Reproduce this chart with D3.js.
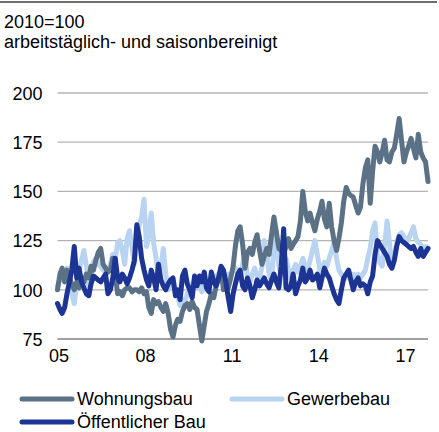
<!doctype html>
<html>
<head>
<meta charset="utf-8">
<title>Auftragseingang Bau</title>
<script src="https://cdn.jsdelivr.net/npm/d3@7"></script>
<style>
    body { margin: 0; background: white; }
    text { font-family: "Liberation Sans", Arial, sans-serif; fill: #000; }
    .grid line { stroke: #b4b4b4; stroke-width: 1.3px; }
    .series { fill: none; stroke-width: 5px; stroke-linejoin: round; stroke-linecap: round; }
</style>
</head>
<body>
<script>
    // monthly, Jan 2005 .. Nov 2017, 2010=100
    const startYear = 2005;
    const wohnungsbau = [
        100, 108, 111, 104, 110, 106, 103, 100, 104, 101, 106, 104,
        108, 106, 112, 110, 115, 119, 121, 113, 111, 109, 110, 116,
        108, 98, 99, 97, 100, 101, 101, 99, 100, 100, 99, 101,
        98, 99, 91, 88, 95, 93, 94, 91, 89, 93, 88, 80,
        76, 82, 85, 84, 89, 92, 93, 90, 94, 91, 90, 82,
        74, 82, 89, 93, 98, 96, 102, 106, 111, 100, 103, 101,
        106, 112, 122, 130, 132, 123, 111, 119, 121, 118, 124, 128,
        120, 113, 117, 121, 118, 128, 137, 129, 121, 120, 118, 122,
        126, 121, 123, 125, 127, 135, 150, 140, 135, 139, 134, 130,
        136, 140, 145, 136, 132, 144, 132, 125, 120, 126, 134, 145,
        152, 149, 148, 147, 143, 139, 142, 154, 162, 166, 144, 160,
        173, 170, 165, 170, 176, 166, 165, 170, 172, 179, 187, 176,
        165, 170, 173, 177, 172, 167, 179, 170, 167, 165, 155
    ];
    const gewerbebau = [
        102, 105, 110, 108, 111, 109, 98, 93, 103, 110, 115, 120,
        112, 102, 108, 114, 116, 113, 112, 110, 111, 109, 113, 118,
        115, 124, 125, 120, 113, 126, 130, 122, 113, 124, 133, 137,
        146, 122, 128, 139, 124, 116, 106, 112, 121, 108, 100, 103,
        105, 100, 97, 92, 95, 94, 98, 101, 103, 105, 104, 102,
        99, 102, 100, 103, 106, 104, 107, 108, 110, 108, 106, 108,
        107, 110, 111, 108, 105, 113, 119, 106, 104, 108, 111, 107,
        105, 112, 125, 119, 108, 105, 121, 130, 112, 108, 111, 116,
        110, 106, 110, 113, 109, 112, 116, 112, 110, 115, 120, 125,
        118, 110, 111, 114, 112, 116, 120, 124, 116, 110, 108, 106,
        106, 109, 107, 108, 105, 108, 106, 108, 110, 116, 121, 130,
        134, 118, 114, 112, 122, 135, 124, 111, 116, 124, 128, 129,
        127, 124, 126, 129, 132, 126, 124, 123, 121, 122, 121
    ];
    const oeffentlich = [
        93, 90, 88, 91, 98, 104, 110, 122, 106, 111, 104, 101,
        98, 97, 103, 107, 106, 105, 104, 106, 108, 98, 100, 106,
        116, 106, 104, 108, 106, 103, 106, 110, 115, 133, 127, 116,
        110, 105, 102, 110, 106, 100, 113, 105, 102, 100, 103, 105,
        106, 97, 100, 95, 107, 110, 103, 100, 96, 107, 102, 107,
        104, 109, 101, 99, 109, 104, 102, 106, 112, 110, 104, 96,
        89, 98, 103, 108, 110, 102, 100, 106, 102, 96, 100, 105,
        102, 104, 106, 103, 101, 105, 108, 104, 101, 112, 131, 101,
        100, 102, 108, 98, 102, 105, 111, 104, 106, 110, 105, 106,
        108, 101, 106, 111, 108, 106, 102, 98, 95, 93, 100, 106,
        108, 110, 105, 100, 104, 106, 102, 103, 102, 98, 104, 107,
        118, 125, 123, 121, 119, 117, 113, 111, 115, 122, 127, 125,
        124, 123, 122, 121, 122, 119, 117, 121, 117, 119, 121
    ];
    const seriesNames = ["Wohnungsbau", "Gewerbebau", "Öffentlicher Bau"];
    const seriesColors = ["#5a7186", "#b9d4f0", "#1c3494"];
    const yTicks = [75, 100, 125, 150, 175, 200];
    const xTickYears = [2005, 2008, 2011, 2014, 2017];
    const titleLines = ["2010=100", "arbeitstäglich- und saisonbereinigt"];

    const width = 439, height = 432;
    const plotLeft = 57.5, plotRight = 428, plotTop = 93, plotBottom = 339;
    const fs = 18;

    const svg = d3.select("body").append("svg")
        .attr("width", width)
        .attr("height", height);

    // top rule
    svg.append("line")
        .attr("x1", 0).attr("x2", 437)
        .attr("y1", 2).attr("y2", 2)
        .attr("stroke", "#6e6e6e")
        .attr("stroke-width", 2.2);

    svg.selectAll(".title")
        .data(titleLines)
        .enter().append("text")
        .attr("class", "title")
        .attr("x", 4)
        .attr("y", (d, i) => 28 + i * 19.5)
        .style("font-size", fs + "px")
        .text(d => d);

    const toDate = i => new Date(startYear, i, 1);
    const n = wohnungsbau.length;
    const x = d3.scaleTime()
        .domain([toDate(0), toDate(n - 1)])
        .range([plotLeft, plotRight]);
    const y = d3.scaleLinear()
        .domain([75, 200])
        .range([plotBottom, plotTop]);

    const grid = svg.append("g").attr("class", "grid");
    grid.selectAll("line")
        .data(yTicks)
        .enter().append("line")
        .attr("x1", plotLeft).attr("x2", plotRight)
        .attr("y1", d => y(d)).attr("y2", d => y(d))
        .style("stroke", d => d === 75 ? "#808080" : null);

    const yAxis = svg.append("g")
        .attr("transform", `translate(${plotLeft - 15},0)`)
        .call(d3.axisLeft(y).tickValues(yTicks).tickSize(0).tickPadding(0));
    yAxis.select(".domain").remove();
    yAxis.selectAll("text")
        .style("font-size", fs + "px")
        .attr("font-family", null)
        .attr("dy", "0.35em");

    const xAxis = svg.append("g")
        .attr("transform", `translate(0,${plotBottom})`)
        .call(d3.axisBottom(x)
            .tickValues(xTickYears.map(yr => new Date(yr, 0, 1)))
            .tickFormat(d3.timeFormat("%y"))
            .tickSize(0).tickPadding(10));
    xAxis.select(".domain").remove();
    xAxis.selectAll("text")
        .style("font-size", fs + "px")
        .attr("font-family", null)
        .attr("transform", "translate(1,0)");

    const line = d3.line()
        .x((d, i) => x(toDate(i)))
        .y(d => y(d));

    const allSeries = [wohnungsbau, gewerbebau, oeffentlich];
    // light blue underneath, then grey, dark blue on top
    const drawOrder = [1, 0, 2];
    svg.selectAll(".series")
        .data(drawOrder)
        .enter().append("path")
        .attr("class", "series")
        .attr("stroke", k => seriesColors[k])
        .attr("d", k => line(allSeries[k]));

    // legend
    const legendPos = [[22, 399], [232, 399], [22, 422]];
    const legend = svg.selectAll(".legend")
        .data(seriesNames)
        .enter().append("g")
        .attr("class", "legend")
        .attr("transform", (d, i) => `translate(${legendPos[i][0]},${legendPos[i][1]})`);
    legend.append("line")
        .attr("x1", 0).attr("x2", 50)
        .attr("stroke", (d, i) => seriesColors[i])
        .attr("stroke-width", 5)
        .attr("stroke-linecap", "round");
    legend.append("text")
        .attr("x", 55)
        .attr("dy", "0.35em")
        .style("font-size", fs + "px")
        .text(d => d);
</script>
</body>
</html>
